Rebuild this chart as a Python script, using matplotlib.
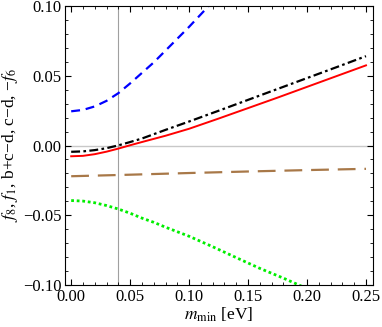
import numpy as np
import matplotlib
matplotlib.use('Agg')
import matplotlib.pyplot as plt
from matplotlib.ticker import MultipleLocator

plt.rcParams['font.family'] = ['Liberation Serif', 'DejaVu Serif']
plt.rcParams['mathtext.fontset'] = 'stix'

# values
x_blue = [0.0, 0.01, 0.02, 0.03, 0.04, 0.05, 0.06, 0.07, 0.08, 0.09, 0.10, 0.11, 0.12]
y_blue = [0.0245, 0.0255, 0.028, 0.032, 0.0375, 0.0445, 0.052, 0.0595, 0.068, 0.0765, 0.085, 0.094, 0.103]

x_main = [0.0, 0.01, 0.02, 0.03, 0.04, 0.05, 0.06, 0.08, 0.10, 0.125, 0.15, 0.175, 0.20, 0.225, 0.25]
y_black = [-0.0045, -0.0042, -0.0033, -0.0019, 0.0001, 0.0025, 0.005, 0.0112, 0.0172,
           0.0249, 0.0327, 0.0405, 0.0483, 0.0561, 0.064]
y_red = [-0.0077, -0.0074, -0.0062, -0.0044, -0.0022, 0.0002, 0.0025, 0.007, 0.012,
         0.0193, 0.0268, 0.0343, 0.042, 0.0497, 0.0574]

x_brown = [0.0, 0.05, 0.10, 0.15, 0.20, 0.25]
y_brown = [-0.0220, -0.0209, -0.0197, -0.0186, -0.0176, -0.0167]

x_green = [0.0, 0.01, 0.02, 0.03, 0.04, 0.05, 0.06, 0.07, 0.08, 0.10, 0.12, 0.14, 0.16, 0.18, 0.20]
y_green = [-0.0394, -0.0398, -0.041, -0.043, -0.0455, -0.0485, -0.052, -0.055, -0.0585,
           -0.065, -0.0725, -0.0803, -0.088, -0.095, -0.1025]

m_mark = 0.04

xticks = [0.0, 0.05, 0.10, 0.15, 0.20, 0.25]
xticklabels = ['0.00', '0.05', '0.10', '0.15', '0.20', '0.25']
yticks = [-0.10, -0.05, 0.0, 0.05, 0.10]
yticklabels = ['\u22120.10', '\u22120.05', '0.00', '0.05', '0.10']

fig = plt.figure(figsize=(3.82, 3.27), dpi=100)
ax = fig.add_axes([0.170, 0.128, 0.806, 0.854])

ax.axhline(0, color='#c8c8c8', lw=1.0, zorder=1)
ax.axvline(m_mark, color='#a0a0a0', lw=0.8, zorder=1)

ax.plot(x_blue, y_blue, color='#0000ff', lw=1.6, dashes=(4, 2.6))
ax.plot(x_main, y_black, color='black', lw=1.6, dashes=(4, 1.5, 1.2, 1.5))
ax.plot(x_main, y_red, color='#ff0000', lw=1.4)
ax.plot(x_brown, y_brown, color='#a87848', lw=1.6, dashes=(8, 4))
ax.plot(x_green, y_green, color='#00ee00', lw=2.0, dashes=(1, 1))

ax.set_xlim(-0.0053, 0.2558)
ax.set_ylim(-0.10, 0.10)

ax.set_xticks(xticks, xticklabels)
ax.set_yticks(yticks, yticklabels)
ax.xaxis.set_minor_locator(MultipleLocator(0.01))
ax.yaxis.set_minor_locator(MultipleLocator(0.01))
ax.tick_params(which='both', direction='in', top=True, right=True, labelsize=12)
ax.tick_params(which='major', length=4, width=0.8, pad=2.5)
ax.tick_params(which='minor', length=2, width=0.6)

ax.set_xlabel(r'$m_{\rm min}$ [eV]', fontsize=12.5, labelpad=1)
ax.set_ylabel('$f_8$, $f_1$, b+c\u2212d, c\u2212d, \u2212$f_6$', fontsize=12.5, labelpad=2)

fig.savefig('out.png', dpi=100)
